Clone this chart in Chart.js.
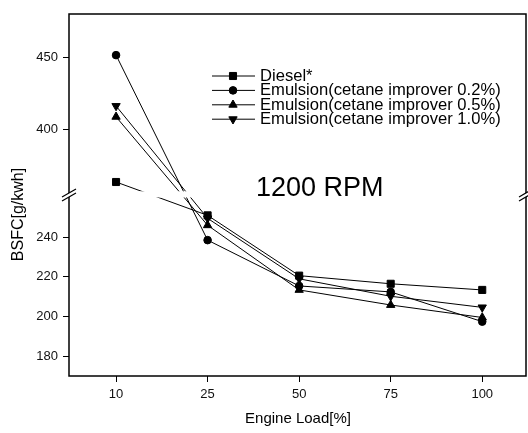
<!DOCTYPE html>
<html>
<head>
<meta charset="utf-8">
<script src="https://cdn.jsdelivr.net/npm/chart.js@4.4.0/dist/chart.umd.min.js"></script>
<style>
html,body{margin:0;padding:0;background:#fff;}
#wrap{width:528px;height:433px;position:relative;}
</style>
</head>
<body>
<div id="wrap"><canvas id="c" width="528" height="433"></canvas></div>
<script>
// ---- data ----
const categories = ['10', '25', '50', '75', '100'];
const seriesLabels = ['Diesel*', 'Emulsion(cetane improver 0.2%)', 'Emulsion(cetane improver 0.5%)', 'Emulsion(cetane improver 1.0%)'];
const diesel = [364, 251, 220.6, 216.5, 213.4];
const emul02 = [451.6, 238.5, 215.4, 212.4, 197.4];
const emul05 = [409, 246, 213.4, 205.8, 199.5];
const emul10 = [416.5, 249.5, 219, 210.2, 204.6];
const yTicks = [180, 200, 220, 240, 400, 450];
const yMin = 170, yMax = 480, breakLow = 260, breakHigh = 360;
const xTitle = 'Engine Load[%]';
const yTitle = 'BSFC[g/kwh]';
const annotationText = '1200 RPM';

// ---- broken axis scale ----
const FRAC_LOW = 0.4931, FRAC_HIGH = 0.5199;
function valueToFrac(v) {
  if (v <= breakLow) return (v - yMin) / (breakLow - yMin) * FRAC_LOW;
  if (v >= breakHigh) return FRAC_HIGH + (v - breakHigh) / (yMax - breakHigh) * (1 - FRAC_HIGH);
  return FRAC_LOW + (v - breakLow) / (breakHigh - breakLow) * (FRAC_HIGH - FRAC_LOW);
}
function fracToValue(f) {
  if (f <= FRAC_LOW) return yMin + f / FRAC_LOW * (breakLow - yMin);
  if (f >= FRAC_HIGH) return breakHigh + (f - FRAC_HIGH) / (1 - FRAC_HIGH) * (yMax - breakHigh);
  return breakLow + (f - FRAC_LOW) / (FRAC_HIGH - FRAC_LOW) * (breakHigh - breakLow);
}
class BrokenLinearScale extends Chart.LinearScale {
  getPixelForValue(value) { return this.getPixelForDecimal(valueToFrac(value)); }
  getValueForPixel(pixel) { return fracToValue(this.getDecimalForPixel(pixel)); }
}
BrokenLinearScale.id = 'brokenLinear';
BrokenLinearScale.defaults = Chart.LinearScale.defaults;
Chart.register(BrokenLinearScale);

const FONT = '"Liberation Sans", Arial, Helvetica, sans-serif';
const styles = [
  {pointStyle: 'rect', pointRadius: 5, pointRotation: 0},
  {pointStyle: 'circle', pointRadius: 3.8, pointRotation: 0},
  {pointStyle: 'triangle', pointRadius: 4.8, pointRotation: 0},
  {pointStyle: 'triangle', pointRadius: 4.8, pointRotation: 180}
];
const seriesValues = [diesel, emul02, emul05, emul10];
const datasets = seriesValues.map((vals, i) => ({
  label: seriesLabels[i],
  data: vals.map((v, j) => ({x: j, y: v})),
  borderColor: '#000',
  backgroundColor: '#000',
  borderWidth: 1,
  pointBorderWidth: 1,
  pointBackgroundColor: '#000',
  pointBorderColor: '#000',
  tension: 0,
  fill: false,
  pointStyle: styles[i].pointStyle,
  pointRadius: styles[i].pointRadius,
  pointRotation: styles[i].pointRotation
}));

function drawMarker(ctx, style, x, y) {
  ctx.fillStyle = '#000'; ctx.strokeStyle = '#000'; ctx.lineWidth = 1;
  if (Chart.helpers && Chart.helpers.drawPoint) {
    Chart.helpers.drawPoint(ctx, {pointStyle: style.pointStyle, radius: style.pointRadius, rotation: style.pointRotation, borderWidth: 1}, x, y);
  }
}

const decor = {
  id: 'decor',
  afterDatasetsDraw(chart) {
    const {ctx, chartArea: a, scales: {y}} = chart;
    ctx.save();
    const yHi = y.getPixelForValue(breakHigh) + 3.5;
    const yLo = y.getPixelForValue(breakLow);
    ctx.fillStyle = '#fff';
    ctx.fillRect(a.left + 1, yHi, a.right - a.left - 2, yLo - yHi);
    ctx.strokeStyle = '#000';
    ctx.lineWidth = 1.5;
    ctx.strokeRect(a.left, a.top, a.right - a.left, a.bottom - a.top);
    const mid = (yHi + yLo) / 2;
    [a.left, a.right].forEach(x => {
      ctx.fillStyle = '#fff';
      ctx.beginPath();
      ctx.moveTo(x - 7, mid + 2.5); ctx.lineTo(x + 7, mid - 5.5);
      ctx.lineTo(x + 7, mid - 1.5); ctx.lineTo(x - 7, mid + 6.5); ctx.closePath();
      ctx.fill();
      ctx.strokeStyle = '#000'; ctx.lineWidth = 1.2;
      ctx.beginPath();
      ctx.moveTo(x - 7, mid + 2.5); ctx.lineTo(x + 7, mid - 5.5);
      ctx.moveTo(x - 7, mid + 6.5); ctx.lineTo(x + 7, mid - 1.5);
      ctx.stroke();
    });
    ctx.restore();
  },
  afterDraw(chart) {
    const {ctx} = chart;
    ctx.save();
    // legend
    const lx0 = 212, lx1 = 255, ltx = 260, ly0 = 76, ldy = 14.4;
    chart.data.datasets.forEach((ds, i) => {
      const yy = ly0 + i * ldy;
      ctx.strokeStyle = '#000'; ctx.lineWidth = 1;
      ctx.beginPath(); ctx.moveTo(lx0, yy); ctx.lineTo(lx1, yy); ctx.stroke();
      drawMarker(ctx, styles[i], 233, yy);
      ctx.fillStyle = '#000';
      ctx.font = '16.6px ' + FONT;
      ctx.textAlign = 'left'; ctx.textBaseline = 'alphabetic';
      ctx.fillText(ds.label, ltx, yy + 5);
    });
    // annotation
    ctx.font = '27px ' + FONT;
    ctx.fillStyle = '#000';
    ctx.textAlign = 'left'; ctx.textBaseline = 'alphabetic';
    ctx.fillText(annotationText, 256, 196);
    // axis titles
    ctx.font = '15px ' + FONT;
    ctx.textAlign = 'center'; ctx.textBaseline = 'middle';
    ctx.fillText(xTitle, 298, 419);
    ctx.translate(18.5, 214.5);
    ctx.rotate(-Math.PI / 2);
    ctx.font = '16px ' + FONT;
    ctx.fillText(yTitle, 0, 0);
    ctx.restore();
  }
};

new Chart(document.getElementById('c'), {
  type: 'line',
  data: {datasets},
  plugins: [decor],
  options: {
    responsive: false,
    devicePixelRatio: 1,
    animation: false,
    layout: {autoPadding: false, padding: {left: 0, right: 2, top: 14, bottom: 0}},
    plugins: {legend: {display: false}, tooltip: {enabled: false}, title: {display: false}},
    scales: {
      x: {
        type: 'linear',
        min: -0.514, max: 4.478,
        afterBuildTicks: s => { s.ticks = categories.map((c, i) => ({value: i})); },
        afterFit: s => { s.height = 57; s.paddingLeft = 0; s.paddingRight = 0; },
        ticks: {
          autoSkip: false, maxRotation: 0, padding: 5, color: '#111',
          font: {family: FONT, size: 13},
          callback: v => categories[v]
        },
        grid: {drawOnChartArea: false, drawTicks: true, tickLength: 6, color: '#000', lineWidth: 1},
        border: {display: false}
      },
      y: {
        type: 'brokenLinear',
        min: yMin, max: yMax,
        afterBuildTicks: s => { s.ticks = yTicks.map(v => ({value: v})); },
        afterFit: s => { s.width = 69; s.paddingTop = 0; s.paddingBottom = 0; },
        ticks: {autoSkip: false, padding: 5, color: '#111', font: {family: FONT, size: 13}},
        grid: {drawOnChartArea: false, drawTicks: true, tickLength: 6, color: '#000', lineWidth: 1},
        border: {display: false}
      }
    }
  }
});
</script>
</body>
</html>
